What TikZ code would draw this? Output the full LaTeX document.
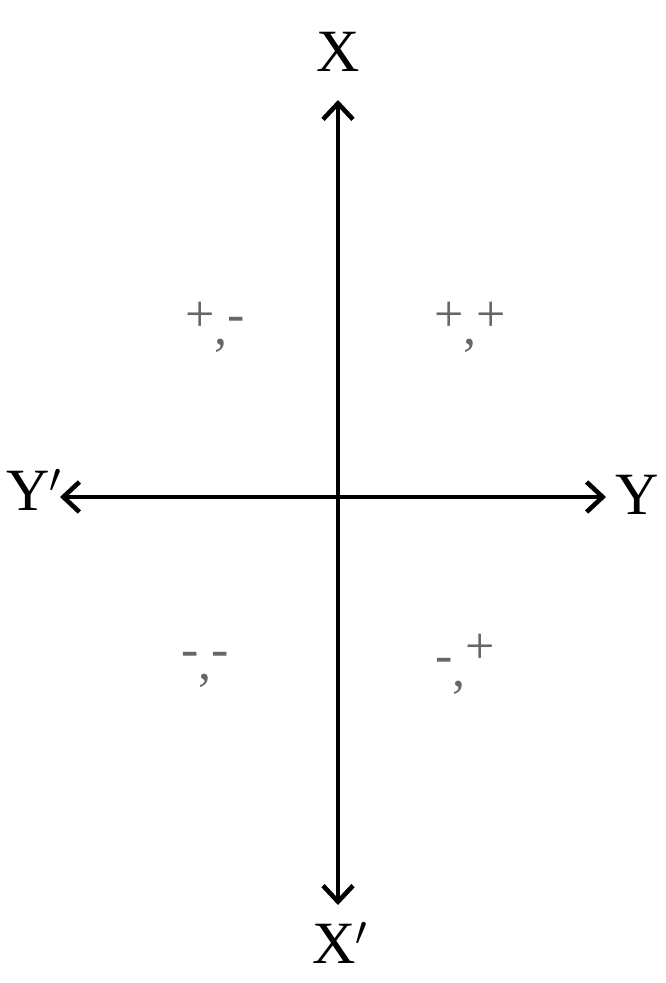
\documentclass[tikz,border=0pt]{standalone}
\usepackage{fontspec}
\setmainfont{Liberation Serif}
\usetikzlibrary{arrows.meta}
\newcommand{\qcomma}{\raisebox{-0.55ex}{,}}
\begin{document}
\begin{tikzpicture}[x=0.5pt,y=-0.5pt,
  axis/.style={line width=2.3pt,-{Straight Barb[length=8pt,width=15pt,line width=2.3pt]}},
  axlabel/.style={font=\fontsize{30}{30}\selectfont,inner sep=0pt},
  quad/.style={font=\fontsize{26}{26}\selectfont,text=black!60,inner sep=0pt}]
\useasboundingbox (0,0) rectangle (665,983);
\coordinate (O) at (338,497);
\coordinate (top) at (338,100);
\coordinate (bot) at (338,905);
\coordinate (left) at (60,497);
\coordinate (right) at (606,497);
\draw[axis] (O) -- (top);
\draw[axis] (O) -- (bot);
\draw[axis] (O) -- (left);
\draw[axis] (O) -- (right);
\node[axlabel] (lx) at (338,52) {X};
\node[axlabel] (lxp) at (340,943) {X$'$};
\node[axlabel] (lyp) at (34,490) {Y$'$};
\node[axlabel] (ly) at (637,495) {Y};
\node[quad] (q1) at (470,327) {+\qcomma+};
\node[quad] (q2) at (215,327) {+\qcomma-};
\node[quad] (q3) at (205,670) {-\qcomma-};
\node[quad] (q4) at (465,664) {-\qcomma\raisebox{0.4ex}{+}};
\end{tikzpicture}
\end{document}
